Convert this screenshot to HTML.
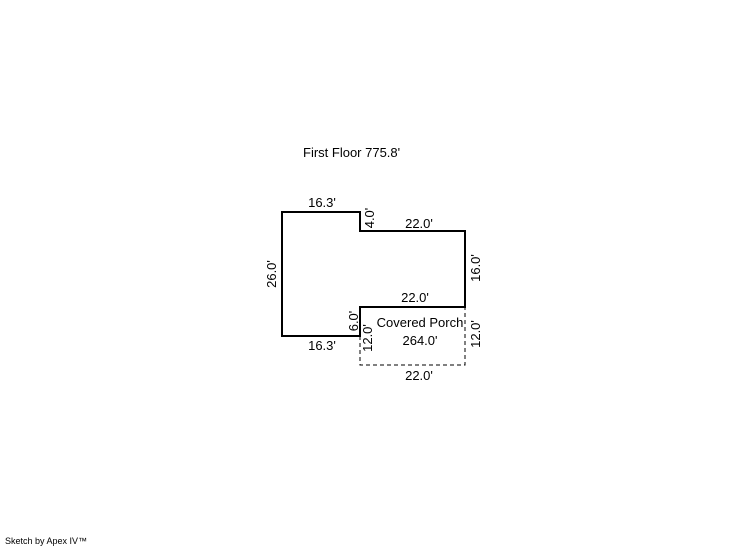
<!DOCTYPE html>
<html><head><meta charset="utf-8"><style>
html,body{margin:0;padding:0;background:#fff;width:746px;height:547px;overflow:hidden}
svg{display:block}
text{font-family:"Liberation Sans",Arial,sans-serif;font-size:13px;fill:#000}
</style></head><body>
<svg width="746" height="547" viewBox="0 0 746 547">
<text x="303" y="157">First Floor 775.8'</text>
<path d="M360,307 L465,307 L465,231 L360,231 L360,212 L282,212 L282,336 L360,336 Z" fill="none" stroke="#000" stroke-width="2"/>
<path d="M360,336 L360,365 L465,365 L465,307" fill="none" stroke="#000" stroke-width="1" stroke-dasharray="4,3"/>
<text x="322" y="207" text-anchor="middle">16.3'</text>
<text x="419" y="228" text-anchor="middle">22.0'</text>
<text x="415" y="302" text-anchor="middle">22.0'</text>
<text x="322" y="350" text-anchor="middle">16.3'</text>
<text x="419" y="380" text-anchor="middle">22.0'</text>
<text x="420" y="327" text-anchor="middle">Covered Porch</text>
<text x="420" y="345" text-anchor="middle">264.0'</text>
<text transform="translate(276,274) rotate(-90)" text-anchor="middle">26.0'</text>
<text transform="translate(374,218) rotate(-90)" text-anchor="middle">4.0'</text>
<text transform="translate(480,268) rotate(-90)" text-anchor="middle">16.0'</text>
<text transform="translate(358,321) rotate(-90)" text-anchor="middle">6.0'</text>
<text transform="translate(372,338) rotate(-90)" text-anchor="middle">12.0'</text>
<text transform="translate(480,334) rotate(-90)" text-anchor="middle">12.0'</text>
<text x="5" y="544" style="font-size:9px">Sketch by Apex IV™</text>
</svg>
</body></html>
